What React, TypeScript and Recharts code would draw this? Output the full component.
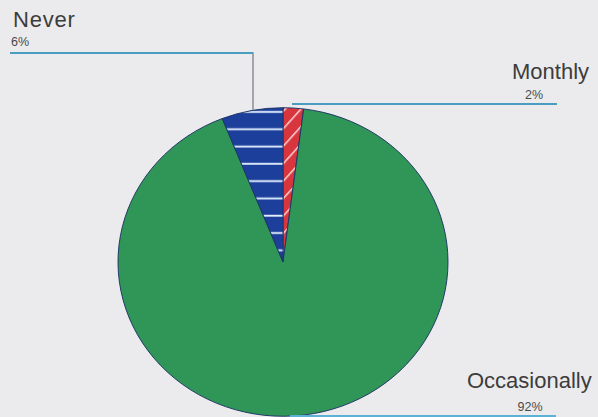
import React from 'react';
import { PieChart, Pie, Cell } from 'recharts';

// Share of respondents by frequency
const CATEGORIES = ['Monthly', 'Occasionally', 'Never'];
const SHARES = [2, 92, 6];
const SHARE_LABELS = ['2%', '92%', '6%'];
const FILLS = ['url(#redStripes)', '#2f9657', 'url(#blueStripes)'];

const data = CATEGORIES.map((name, i) => ({ name, value: SHARES[i], label: SHARE_LABELS[i] }));

const W = 598;
const H = 417;
const CX = 283;
const CY = 262;
const R = 165;

const labelFont = 'Arial, "Liberation Sans", Helvetica, sans-serif';

export default function App() {
  return (
    <div style={{ position: 'absolute', left: 0, top: 0, width: W, height: H, background: '#ebebed', overflow: 'hidden' }}>
      <style>{'body{margin:0}'}</style>
      <div style={{ position: 'absolute', left: 0, top: 0, transform: 'scaleY(0.935)', transformOrigin: `${CX}px ${CY}px` }}>
        <PieChart width={W} height={460} margin={{ top: 0, right: 0, bottom: 0, left: 0 }}>
          <defs>
            <pattern id="blueStripes" patternUnits="userSpaceOnUse" width="20" height="18.5">
              <rect width="20" height="18.5" fill="#1c3f9b" />
              <rect y="8" width="20" height="2" fill="#e4f0ff" />
            </pattern>
            <pattern id="redStripes" patternUnits="userSpaceOnUse" width="12" height="12" patternTransform="rotate(40)">
              <rect width="12" height="12" fill="#d8363f" />
              <rect x="5" width="1.5" height="12" fill="#ffd6d6" />
            </pattern>
          </defs>
          <Pie
            data={data}
            dataKey="value"
            nameKey="name"
            cx={CX}
            cy={CY}
            outerRadius={R}
            startAngle={90}
            endAngle={-270}
            stroke="#1f3566"
            strokeWidth={1}
            isAnimationActive={false}
            label={false}
            labelLine={false}
          >
            {data.map((d, i) => (
              <Cell key={d.name} fill={FILLS[i]} />
            ))}
          </Pie>
        </PieChart>
      </div>
      <svg width={W} height={H} style={{ position: 'absolute', left: 0, top: 0 }}>
        {/* Never */}
        <polyline points="10,53 253,53 253,110" fill="none" stroke="#8a8f93" strokeWidth={1.5} />
        <line x1={10} y1={53} x2={253} y2={53} stroke="#4a9cc0" strokeWidth={2} />
        <text x={13} y={27} fontFamily={labelFont} fontSize={22} letterSpacing={0.8} fill="#3c3c3c">{data[2].name}</text>
        <text x={11} y={46} fontFamily={labelFont} fontSize={12.5} fill="#4a4a4a">{data[2].label}</text>
        {/* Monthly */}
        <line x1={292} y1={104} x2={557} y2={104} stroke="#4a9cc0" strokeWidth={2} />
        <text x={512} y={79} fontFamily={labelFont} fontSize={22} fill="#3c3c3c">{data[0].name}</text>
        <text x={534} y={99} textAnchor="middle" fontFamily={labelFont} fontSize={12.5} fill="#4a4a4a">{data[0].label}</text>
        {/* Occasionally */}
        <line x1={290} y1={416} x2={556} y2={416} stroke="#5cb2d6" strokeWidth={2} />
        <text x={467} y={388} fontFamily={labelFont} fontSize={22} fill="#3c3c3c">{data[1].name}</text>
        <text x={530} y={411} textAnchor="middle" fontFamily={labelFont} fontSize={12.5} fill="#4a4a4a">{data[1].label}</text>
      </svg>
    </div>
  );
}
